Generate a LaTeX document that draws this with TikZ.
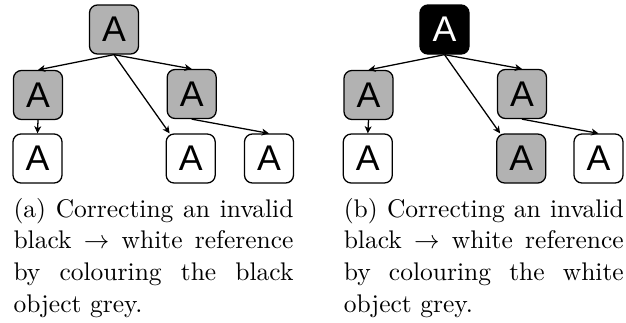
\documentclass[tikz,border=0pt]{standalone}
\usepackage{fontspec}
\newfontfamily\boxfont{Liberation Sans}
\usetikzlibrary{arrows.meta}
\def\pxu{0.39216pt}
\tikzset{
  obj/.style={draw=black, line width=0.5pt, rounded corners=3.1pt,
    minimum width={49*\pxu}, minimum height={49*\pxu}, inner sep=0pt,
    font=\boxfont\fontsize{14}{16}\selectfont},
  greyobj/.style={obj, fill=black!30},
  whiteobj/.style={obj, fill=white},
  blackobj/.style={obj, fill=black, text=white},
  ref/.style={line width=0.5pt, -{Stealth[length=2.8pt,width=2.7pt,inset=0.8pt]}},
  caption/.style={anchor=north west, inner sep=0pt, text width=109.8pt,
    align=justify, font=\fontsize{10}{12.4}\selectfont}
}
\begin{document}
\begin{tikzpicture}[x=\pxu, y=-\pxu]
\useasboundingbox (0,0) rectangle (626,322);

% (a) the black object is coloured grey
\node[greyobj]  (at)  at (114,29.5)   {A};
\node[greyobj]  (aml) at (38,95)      {A};
\node[greyobj]  (amr) at (191.7,94)   {A};
\node[whiteobj] (abl) at (37.5,158.5) {A};
\node[whiteobj] (abm) at (190.7,158.5){A};
\node[whiteobj] (abr) at (269,158.5)  {A};
\draw[ref] (at.south) -- (aml.north);
\draw[ref] (at.south) -- (amr.north);
\draw[ref] (at.south) -- (abm.130);
\draw[ref] (aml.south) -- (abl.north);
\draw[ref] (amr.south) -- (abr.north);
\node[caption] (capa) at (13,197.6)
  {(a) Correcting an invalid\linebreak black $\rightarrow$ white reference\linebreak by colouring the black\linebreak object grey.};

% (b) the white object is coloured grey
\node[blackobj] (bt)  at (444.5,29.5) {A};
\node[greyobj]  (bml) at (368.5,95)   {A};
\node[greyobj]  (bmr) at (522,94)     {A};
\node[whiteobj] (bbl) at (367.8,158.5){A};
\node[greyobj]  (bbm) at (521.2,158.5){A};
\node[whiteobj] (bbr) at (598.5,158.5){A};
\draw[ref] (bt.south) -- (bml.north);
\draw[ref] (bt.south) -- (bmr.north);
\draw[ref] (bt.south) -- (bbm.130);
\draw[ref] (bml.south) -- (bbl.north);
\draw[ref] (bmr.south) -- (bbr.north);
\node[caption] (capb) at (343.3,197.6)
  {(b) Correcting an invalid\linebreak black $\rightarrow$ white reference\linebreak by colouring the white\linebreak object grey.};
\end{tikzpicture}
\end{document}
